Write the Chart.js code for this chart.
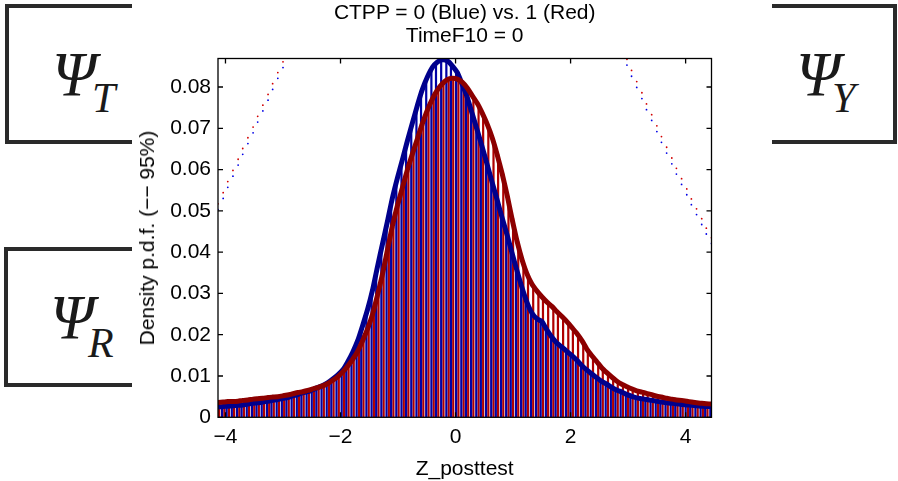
<!DOCTYPE html>
<html>
<head>
<meta charset="utf-8">
<script src="https://cdn.jsdelivr.net/npm/chart.js@4"></script>
<style>
  body { margin: 0; background: #fff; }
  #wrap { position: relative; width: 898px; height: 481px; overflow: hidden; font-family: 'Liberation Sans', Arial, sans-serif; }
  .txt { position: absolute; white-space: nowrap; color: #000; font-size: 21px; }
  .box { position: absolute; background: #fff; border: 4px solid #2a2a2a; box-sizing: border-box; }
  .psi { position: absolute; font-family: 'Liberation Serif', 'DejaVu Serif', serif; font-style: italic; line-height: 1; color: #1a1a1a; }
</style>
</head>
<body>
<div id="wrap">
  <canvas id="densityChart"></canvas>

  <div class="txt" style="left:464.7px; top:12px; transform:translate(-50%,-50%);">CTPP = 0 (Blue) vs. 1 (Red)</div>
  <div class="txt" style="left:464.7px; top:35px; transform:translate(-50%,-50%);">TimeF10 = 0</div>
  <div class="txt" style="left:464.7px; top:468px; transform:translate(-50%,-50%);">Z_posttest</div>
  <div class="txt" style="left:147px; top:238px; transform:translate(-50%,-50%) rotate(-90deg);">Density p.d.f. (−− 95%)</div>

  <!-- the three Psi boxes -->
  <div class="box" style="left:5px; top:4px; width:127px; height:140px; border-right:none;"></div>
  <div class="box" style="left:4px; top:247px; width:128px; height:140px; border-right:none;"></div>
  <div class="box" style="left:772px; top:4px; width:125px; height:140px; border-left:none;"></div>
  <span class="psi" style="left:52px; top:44px; font-size:63px;">Ψ</span>
  <span class="psi" style="left:92px; top:77px; font-size:42px;">T</span>
  <span class="psi" style="left:50px; top:287px; font-size:63px;">Ψ</span>
  <span class="psi" style="left:88px; top:322px; font-size:42px;">R</span>
  <span class="psi" style="left:796px; top:44px; font-size:63px;">Ψ</span>
  <span class="psi" style="left:832px; top:77px; font-size:42px;">Y</span>
</div>
<script>
// evaluation grid (Z_posttest)
const gridX = [-4.13, -4.04, -3.96, -3.87, -3.78, -3.70, -3.61, -3.52, -3.44, -3.35,
  -3.26, -3.18, -3.09, -3.00, -2.92, -2.83, -2.74, -2.66, -2.57, -2.48,
  -2.40, -2.31, -2.22, -2.14, -2.05, -1.96, -1.88, -1.79, -1.70, -1.62,
  -1.53, -1.44, -1.36, -1.27, -1.18, -1.10, -1.01, -0.92, -0.84, -0.75,
  -0.66, -0.58, -0.49, -0.40, -0.32, -0.23, -0.14, -0.06, 0.03, 0.12,
  0.20, 0.29, 0.38, 0.46, 0.55, 0.64, 0.72, 0.81, 0.90, 0.98,
  1.07, 1.16, 1.24, 1.33, 1.42, 1.50, 1.59, 1.68, 1.76, 1.85,
  1.94, 2.02, 2.11, 2.20, 2.28, 2.37, 2.46, 2.54, 2.63, 2.72,
  2.80, 2.89, 2.98, 3.06, 3.15, 3.24, 3.32, 3.41, 3.50, 3.58,
  3.67, 3.76, 3.84, 3.93, 4.02, 4.10, 4.19, 4.28, 4.36, 4.45];

// CTPP = 0 (blue) density
const blueDensity = [0.0025, 0.0026, 0.0027, 0.0028, 0.0029, 0.0030, 0.0032, 0.0034, 0.0035, 0.0037,
  0.0039, 0.0041, 0.0043, 0.0046, 0.0048, 0.0052, 0.0055, 0.0059, 0.0062, 0.0067,
  0.0072, 0.0077, 0.0084, 0.0092, 0.0102, 0.0115, 0.0133, 0.0157, 0.0186, 0.0220,
  0.0261, 0.0310, 0.0363, 0.0420, 0.0477, 0.0530, 0.0580, 0.0626, 0.0668, 0.0713,
  0.0757, 0.0793, 0.0824, 0.0848, 0.0860, 0.0866, 0.0863, 0.0852, 0.0835, 0.0805,
  0.0776, 0.0735, 0.0694, 0.0656, 0.0612, 0.0567, 0.0528, 0.0483, 0.0440, 0.0399,
  0.0354, 0.0312, 0.0279, 0.0252, 0.0238, 0.0232, 0.0211, 0.0193, 0.0180, 0.0170,
  0.0159, 0.0150, 0.0138, 0.0125, 0.0115, 0.0105, 0.0095, 0.0087, 0.0080, 0.0072,
  0.0066, 0.0061, 0.0055, 0.0051, 0.0047, 0.0045, 0.0043, 0.0041, 0.0039, 0.0037,
  0.0035, 0.0034, 0.0033, 0.0031, 0.0030, 0.0029, 0.0028, 0.0027, 0.0026, 0.0026];

// CTPP = 1 (red) density
const redDensity = [0.0036, 0.0037, 0.0038, 0.0038, 0.0039, 0.0041, 0.0042, 0.0044, 0.0045, 0.0046,
  0.0048, 0.0049, 0.0050, 0.0052, 0.0054, 0.0057, 0.0060, 0.0062, 0.0065, 0.0069,
  0.0072, 0.0076, 0.0082, 0.0089, 0.0098, 0.0110, 0.0123, 0.0140, 0.0160, 0.0184,
  0.0214, 0.0251, 0.0294, 0.0347, 0.0408, 0.0462, 0.0513, 0.0558, 0.0598, 0.0638,
  0.0676, 0.0710, 0.0744, 0.0772, 0.0792, 0.0808, 0.0818, 0.0821, 0.0819, 0.0811,
  0.0798, 0.0779, 0.0760, 0.0738, 0.0710, 0.0676, 0.0638, 0.0590, 0.0536, 0.0482,
  0.0426, 0.0380, 0.0348, 0.0322, 0.0305, 0.0292, 0.0279, 0.0268, 0.0256, 0.0244,
  0.0231, 0.0218, 0.0203, 0.0185, 0.0166, 0.0149, 0.0134, 0.0120, 0.0108, 0.0097,
  0.0088, 0.0080, 0.0074, 0.0069, 0.0064, 0.0061, 0.0058, 0.0055, 0.0051, 0.0049,
  0.0046, 0.0044, 0.0042, 0.0041, 0.0039, 0.0037, 0.0035, 0.0034, 0.0033, 0.0032];

// 95% bands, only the parts that show inside the axes
const bandLeftX = [-4.13, -4.04, -3.96, -3.87, -3.78, -3.70, -3.61, -3.52, -3.44, -3.35, -3.26, -3.18, -3.09, -3.00];
const redBandLeft = [0.0517, 0.0544, 0.0571, 0.0598, 0.0625, 0.0651, 0.0677, 0.0703, 0.0729, 0.0756, 0.0782, 0.0808, 0.0835, 0.0861];
const blueBandLeft = [0.0503, 0.0530, 0.0557, 0.0584, 0.0611, 0.0637, 0.0663, 0.0689, 0.0715, 0.0742, 0.0768, 0.0794, 0.0821, 0.0847];
const bandRightX = [2.98, 3.06, 3.15, 3.24, 3.32, 3.41, 3.50, 3.58, 3.67, 3.76, 3.84, 3.93, 4.02, 4.10, 4.19, 4.28, 4.36, 4.45];
const redBandRight = [0.0867, 0.0840, 0.0813, 0.0786, 0.0759, 0.0733, 0.0706, 0.0680, 0.0654, 0.0628, 0.0603, 0.0578, 0.0553, 0.0529, 0.0505, 0.0481, 0.0458, 0.0435];
const blueBandRight = [0.0853, 0.0826, 0.0799, 0.0772, 0.0745, 0.0719, 0.0692, 0.0666, 0.0640, 0.0614, 0.0589, 0.0564, 0.0539, 0.0515, 0.0491, 0.0467, 0.0444, 0.0421];

const xTicks = [-4, -2, 0, 2, 4];
const yTicks = [0, 0.01, 0.02, 0.03, 0.04, 0.05, 0.06, 0.07, 0.08];

const BLUE = 'rgb(0,0,140)';
const RED = 'rgb(140,0,0)';

function pts(xs, ys) {
    return xs.map((x, i) => ({ x: x, y: ys[i] }));
}

// box round the axes + ticks pointing inward (matlab style)
const axesBox = {
    id: 'axesBox',
    afterDraw(chart) {
        const ctx = chart.ctx, a = chart.chartArea;
        const xs = chart.scales.x, ys = chart.scales.y;
        ctx.save();
        ctx.strokeStyle = '#000';
        ctx.lineWidth = 1.3;
        ctx.strokeRect(a.left, a.top, a.right - a.left, a.bottom - a.top);
        ctx.beginPath();
        xTicks.forEach(v => {
            const p = xs.getPixelForValue(v);
            ctx.moveTo(p, a.bottom); ctx.lineTo(p, a.bottom - 5);
            ctx.moveTo(p, a.top); ctx.lineTo(p, a.top + 5);
        });
        yTicks.forEach(v => {
            const p = ys.getPixelForValue(v);
            ctx.moveTo(a.left, p); ctx.lineTo(a.left + 5, p);
            ctx.moveTo(a.right, p); ctx.lineTo(a.right - 5, p);
        });
        ctx.stroke();
        ctx.restore();
    }
};

Chart.defaults.font.family = "'Liberation Sans', Arial, sans-serif";
Chart.defaults.font.size = 21;
Chart.defaults.color = '#000';

const ctx = document.getElementById('densityChart').getContext('2d');
const densityChart = new Chart(ctx, {
    type: 'bar',
    data: {
        datasets: [
            { type: 'line', data: pts(bandLeftX, redBandLeft), showLine: false, pointRadius: 0.9, pointBorderWidth: 0, pointBackgroundColor: 'rgb(210,0,0)', clip: 0, order: 0 },
            { type: 'line', data: pts(bandLeftX, blueBandLeft), showLine: false, pointRadius: 0.9, pointBorderWidth: 0, pointBackgroundColor: 'rgb(0,0,230)', clip: 0, order: 0 },
            { type: 'line', data: pts(bandRightX, redBandRight), showLine: false, pointRadius: 0.9, pointBorderWidth: 0, pointBackgroundColor: 'rgb(210,0,0)', clip: 0, order: 0 },
            { type: 'line', data: pts(bandRightX, blueBandRight), showLine: false, pointRadius: 0.9, pointBorderWidth: 0, pointBackgroundColor: 'rgb(0,0,230)', clip: 0, order: 0 },
            // red curve on top, then blue curve
            { type: 'line', data: pts(gridX, redDensity), borderColor: RED, borderWidth: 5, pointRadius: 0, tension: 0.2, clip: 0, order: 1 },
            { type: 'line', data: pts(gridX, blueDensity), borderColor: BLUE, borderWidth: 5, pointRadius: 0, tension: 0.2, clip: 0, order: 2 },
            // stems under the curves
            { data: pts(gridX, blueDensity), backgroundColor: 'rgb(0,0,165)', categoryPercentage: 1, barPercentage: 0.96, order: 3 },
            { data: pts(gridX, redDensity), backgroundColor: 'rgb(175,0,0)', categoryPercentage: 1, barPercentage: 0.96, order: 3 }
        ]
    },
    options: {
        responsive: true,
        maintainAspectRatio: false,
        animation: false,
        events: [],
        layout: { padding: { left: 0, top: 58.5, right: 186.5, bottom: 0 } },
        scales: {
            x: {
                type: 'linear',
                min: -4.13,
                max: 4.45,
                offset: false,
                grid: { display: false, drawTicks: false },
                border: { display: false },
                ticks: {
                    padding: 7,
                    maxRotation: 0,
                    callback: v => (v < 0 ? '\u2212' + Math.abs(v) : String(v))
                },
                afterBuildTicks: s => { s.ticks = xTicks.map(v => ({ value: v })); },
                afterFit: s => { s.height = 481 - 417.3; }
            },
            y: {
                min: 0,
                max: 0.0869,
                grid: { display: false, drawTicks: false },
                border: { display: false },
                ticks: {
                    padding: 7,
                    callback: v => (v === 0 ? '0' : v.toFixed(2))
                },
                afterBuildTicks: s => { s.ticks = yTicks.map(v => ({ value: v })); },
                afterFit: s => { s.width = 218; }
            }
        },
        plugins: {
            legend: { display: false },
            tooltip: { enabled: false },
            title: { display: false }
        }
    },
    plugins: [axesBox]
});
</script>
</body>
</html>
